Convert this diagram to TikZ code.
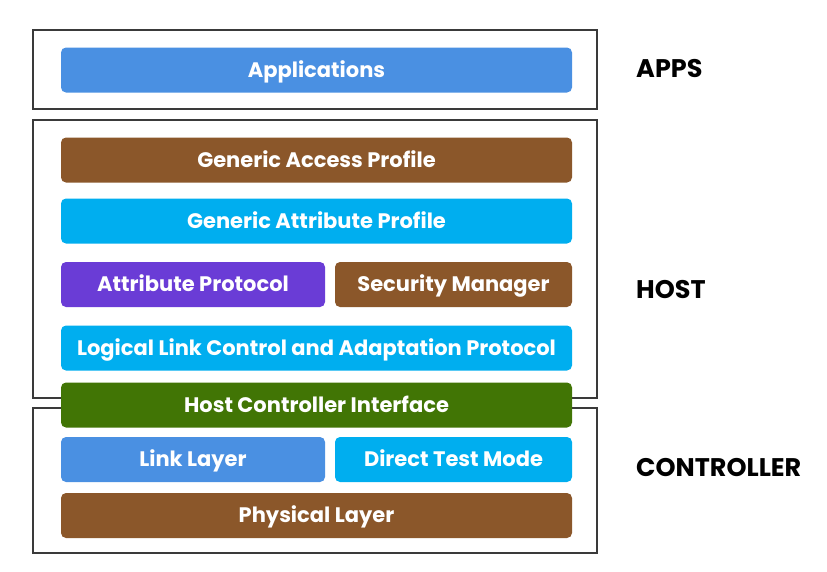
\documentclass[tikz,border=0pt]{standalone}
\usepackage{fontspec}
\setmainfont{Poppins}
\usepackage{xcolor}
\definecolor{AppBlue}{HTML}{4A90E2}
\definecolor{SkyBlue}{HTML}{00AEEF}
\definecolor{Umber}{HTML}{8B572A}
\definecolor{Violet}{HTML}{6A3CD6}
\definecolor{Leaf}{HTML}{417505}
\definecolor{Frame}{HTML}{3A3A3A}
\usepackage{tikz}
\usetikzlibrary{positioning}

\tikzset{
  layer/.style={rounded corners=5pt, inner sep=0pt, minimum height=45pt,
    text=white, text height=14.5pt, text depth=0pt,
    font=\bfseries\fontsize{21}{21}\selectfont},
  full/.style={layer, minimum width=511pt},
  half/.style={layer, minimum width=264pt},
  halfr/.style={layer, minimum width=237pt},
  frame/.style={draw=Frame, line width=1.6pt},
  tag/.style={anchor=west, inner sep=0pt, text height=17pt, text depth=0pt,
    font=\bfseries\fontsize{25.5}{25.5}\selectfont}
}

\begin{document}
\begin{tikzpicture}[x=1pt,y=-1pt]
  \useasboundingbox (0,0) rectangle (827,571);
  % outer frames
  \draw[frame] (33,30) rectangle (597,109);
  \draw[frame] (33,120) rectangle (597,398);
  \draw[frame] (33,408) rectangle (597,553);
  % apps
  \node[full, fill=AppBlue] (app) at (316.5,70) {Applications};
  % host
  \node[full, fill=Umber] (gap) at (316.5,160) {Generic Access Profile};
  \node[full, fill=SkyBlue] (gatt) at (316.5,221) {Generic Attribute Profile};
  \node[half, fill=Violet] (att) at (193,284.5) {Attribute Protocol};
  \node[halfr, fill=Umber] (sm) at (453.5,284.5) {Security Manager};
  \node[full, fill=SkyBlue] (l2cap) at (316.5,348) {Logical Link Control and Adaptation Protocol};
  \node[full, fill=Leaf] (hci) at (316.5,405) {Host Controller Interface};
  % controller
  \node[half, fill=AppBlue] (ll) at (193,459.5) {Link Layer};
  \node[halfr, fill=SkyBlue] (dtm) at (453.5,459.5) {Direct Test Mode};
  \node[full, fill=Umber] (phy) at (316.5,515.5) {Physical Layer};
  % side labels
  \node[tag] (apps) at (636,69) {APPS};
  \node[tag] (host) at (636,290) {HOST};
  \node[tag] (ctrl) at (636,468) {CONTROLLER};
\end{tikzpicture}
\end{document}
